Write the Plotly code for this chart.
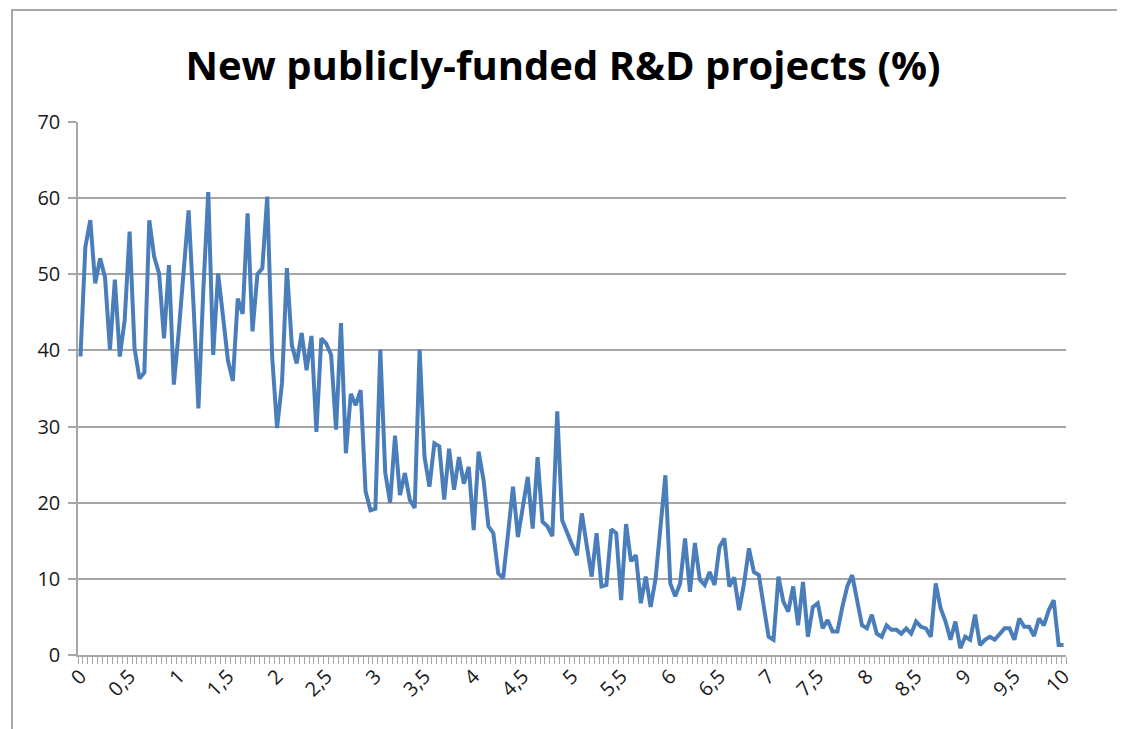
import plotly.graph_objects as go

# share of new publicly-funded R&D projects, one value per step of 0,05 on the x scale
x_vals = [round(i * 0.05, 2) for i in range(201)]
values = [
    39.2, 53.6, 57.1, 48.8, 52.1, 49.6, 40.1, 49.3, 39.2, 44.0,
    55.6, 40.3, 36.3, 37.1, 57.1, 52.3, 50.1, 41.6, 51.2, 35.5,
    42.5, 50.5, 58.4, 46.0, 32.4, 48.0, 60.8, 39.4, 50.1, 44.5,
    38.7, 36.0, 46.8, 44.8, 58.0, 42.5, 50.0, 50.8, 60.2, 39.2,
    29.8, 35.7, 50.8, 40.7, 38.3, 42.3, 37.4, 41.9, 29.3, 41.6,
    40.9, 39.4, 29.6, 43.6, 26.5, 34.3, 32.8, 34.8, 21.5, 19.0,
    19.2, 40.1, 24.0, 20.0, 28.8, 21.0, 23.9, 20.4, 19.3, 40.1,
    26.0, 22.1, 27.8, 27.4, 20.4, 27.1, 21.7, 26.0, 22.5, 24.7,
    16.4, 26.7, 23.0, 16.9, 16.0, 10.7, 10.1, 16.0, 22.1, 15.5,
    19.9, 23.4, 16.6, 26.0, 17.5, 16.9, 15.6, 32.0, 17.7, 16.0,
    14.5, 13.1, 18.6, 14.4, 10.3, 16.0, 9.0, 9.2, 16.5, 16.0,
    7.2, 17.2, 12.3, 13.1, 6.8, 10.3, 6.3, 10.0, 17.0, 23.6,
    9.4, 7.7, 9.4, 15.3, 8.3, 14.7, 9.9, 9.2, 10.9, 9.2,
    14.2, 15.3, 9.0, 10.2, 5.9, 9.4, 14.0, 10.9, 10.5, 6.3,
    2.4, 2.0, 10.3, 7.0, 5.7, 9.0, 3.9, 9.6, 2.4, 6.3,
    6.8, 3.5, 4.6, 3.1, 3.1, 6.3, 9.0, 10.5, 7.2, 3.9,
    3.5, 5.3, 2.8, 2.4, 3.9, 3.3, 3.3, 2.8, 3.5, 2.8,
    4.4, 3.7, 3.5, 2.4, 9.4, 6.1, 4.4, 2.0, 4.4, 0.9,
    2.4, 2.0, 5.3, 1.3, 2.0, 2.4, 2.0, 2.8, 3.5, 3.5,
    2.0, 4.8, 3.7, 3.7, 2.5, 4.8, 3.9, 5.9, 7.2, 1.3,
    1.3,
]
x_ticks = [i * 0.5 for i in range(21)]
x_tick_labels = ["0", "0,5", "1", "1,5", "2", "2,5", "3", "3,5", "4", "4,5", "5",
                 "5,5", "6", "6,5", "7", "7,5", "8", "8,5", "9", "9,5", "10"]
y_ticks = [0, 10, 20, 30, 40, 50, 60, 70]

GRID = '#A6A6A6'
FONT = 'Open Sans, sans-serif'

fig = go.Figure(go.Scatter(
    x=x_vals, y=values, mode='lines',
    line=dict(color='#4A7EBB', width=4),
    hoverinfo='skip',
))

# outer chart frame (Excel chart area border)
fig.add_shape(type='rect', xref='paper', yref='paper',
              x0=-0.0668, x1=1.0526, y0=-0.3, y1=1.2101,
              line=dict(color='#8C8C8C', width=1.5), layer='below')

# page body adds an 8px offset, so the figure is 8px smaller than the window
fig.update_layout(
    width=1117, height=721,
    paper_bgcolor='white', plot_bgcolor='white',
    margin=dict(l=70, r=59, t=114, b=74),
    showlegend=False,
    title=dict(text='<b>New publicly-funded R&D projects (%)</b>',
               x=555 / 1117, xref='container', xanchor='center',
               y=1 - 58 / 721, yref='container', yanchor='middle',
               font=dict(family=FONT, size=40, color='black')),
    xaxis=dict(
        range=[-0.025, 10.025], automargin=False,
        tickmode='array', tickvals=x_ticks, ticktext=x_tick_labels,
        tickangle=-45, ticks='', showgrid=False, zeroline=False,
        showline=True, linecolor=GRID, linewidth=1.5,
        tickfont=dict(family=FONT, size=20, color='#1a1a1a'),
        minor=dict(ticks='outside', tickmode='linear', tick0=-0.025, dtick=0.05,
                   ticklen=7, tickwidth=1, tickcolor=GRID, showgrid=False),
    ),
    yaxis=dict(
        range=[0, 70], tickvals=y_ticks, automargin=False,
        showgrid=True, gridcolor=GRID, gridwidth=1.5,
        showline=True, linecolor=GRID, linewidth=1.5,
        ticks='outside', ticklen=8, tickcolor=GRID, tickwidth=1.5,
        zeroline=False, ticklabelstandoff=4,
        tickfont=dict(family=FONT, size=20, color='#1a1a1a'),
    ),
)

fig.write_html("out.html")
